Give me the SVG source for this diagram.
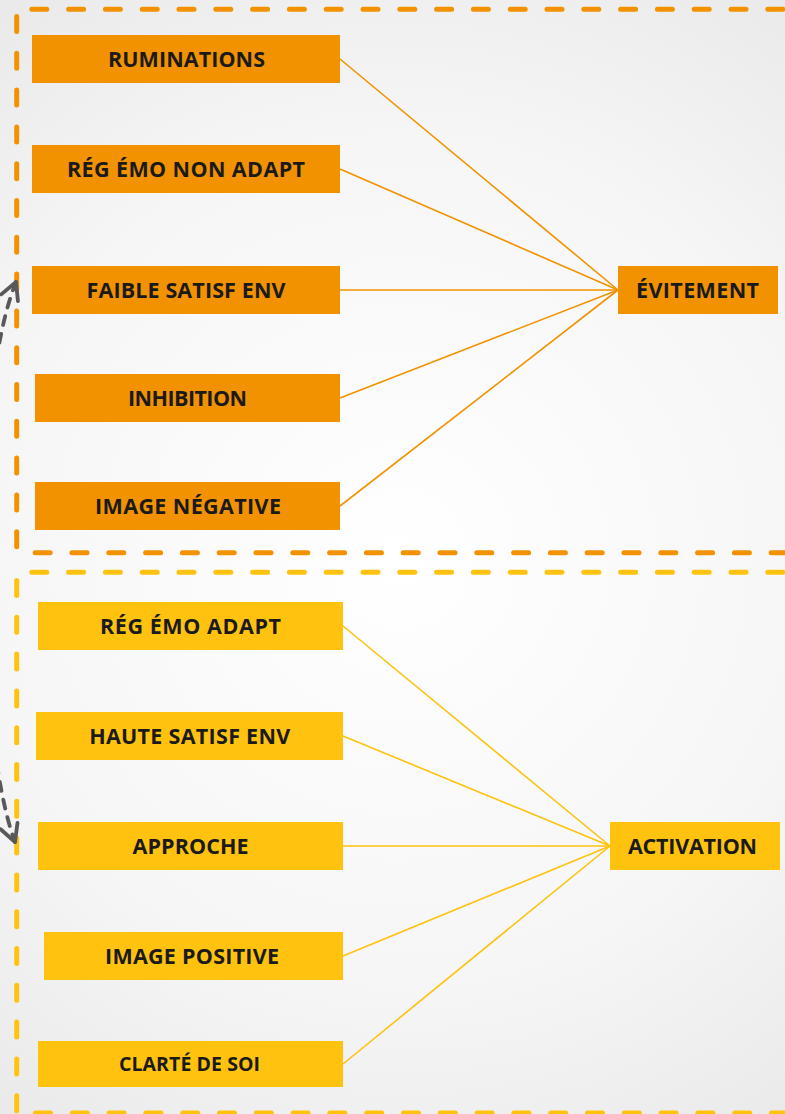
<svg xmlns="http://www.w3.org/2000/svg" width="785" height="1114" viewBox="0 0 785 1114">
  <defs>
    <radialGradient id="bg" cx="400" cy="560" r="760" gradientUnits="userSpaceOnUse">
      <stop offset="0" stop-color="#ffffff"/>
      <stop offset="0.55" stop-color="#f6f6f6"/>
      <stop offset="1" stop-color="#e6e6e6"/>
    </radialGradient>
    <marker id="chev" markerUnits="userSpaceOnUse" markerWidth="30" markerHeight="30" viewBox="-20 -15 30 30" refX="0" refY="0" orient="auto-start-reverse" overflow="visible">
      <path d="M -17 -9 L 0 0 L -17 9" fill="none" stroke="#595959" stroke-width="3.8" stroke-linecap="round" stroke-linejoin="round" stroke-dasharray="none"/>
    </marker>
  </defs>
  <style>
    .frame { fill: none; stroke-width: 5; stroke-linecap: round; stroke-dasharray: 15 21.8; }
    .f-or { stroke: #F39200; }
    .f-ye { stroke: #FFC20E; }
    .box-or { fill: #F39200; }
    .box-ye { fill: #FFC20E; }
    .lbl { font-family: "Open Sans", "Liberation Sans", sans-serif; font-weight: 700; font-size: 21.5px; fill: #1a1a1a; text-anchor: middle; }
    .sm { font-size: 19.5px; }
    .ln-or { stroke: #F39200; stroke-width: 1.6; fill: none; }
    .ln-ye { stroke: #FFC20E; stroke-width: 1.6; fill: none; }
    .loop { fill: none; stroke: #595959; stroke-width: 3.8; stroke-linecap: round; stroke-dasharray: 9 9; }
  </style>

  <rect x="0" y="0" width="785" height="1114" fill="url(#bg)"/>

  <!-- dashed group frames -->
  <g id="frames">
    <path class="frame f-or" d="M31.8 9.3 H 800"/>
    <path class="frame f-or" d="M16.7 16.5 V 548"/>
    <path class="frame f-or" d="M35.2 552.7 H 800"/>
    <path class="frame f-ye" d="M31.8 572.3 H 800"/>
    <path class="frame f-ye" d="M16.7 580.5 V 1114"/>
    <path class="frame f-ye" d="M35.5 1113 H 800"/>
  </g>

  <!-- connectors -->
  <g id="connectors">
    <path class="ln-or" d="M340 59 L618 290"/>
    <path class="ln-or" d="M340 169 L618 290"/>
    <path class="ln-or" d="M340 290 L618 290"/>
    <path class="ln-or" d="M340 398 L618 290"/>
    <path class="ln-or" d="M340 506 L618 290"/>
    <path class="ln-ye" d="M343 626 L610 846"/>
    <path class="ln-ye" d="M343 736 L610 846"/>
    <path class="ln-ye" d="M343 846 L610 846"/>
    <path class="ln-ye" d="M343 956 L610 846"/>
    <path class="ln-ye" d="M343 1064 L610 846"/>
    <path id="loop" class="loop" d="M16 282 C -30 395, -25 735, 15 842" marker-start="url(#chev)" marker-end="url(#chev)"/>
  </g>

  <!-- avoidance side -->
  <g id="ruminations">
    <rect class="box-or" x="32" y="35" width="308" height="48"/>
    <text class="lbl" x="186.5" y="66.5" textLength="157" lengthAdjust="spacing">RUMINATIONS</text>
  </g>
  <g id="reg-emo-non-adapt">
    <rect class="box-or" x="32" y="145" width="308" height="48"/>
    <text class="lbl" x="186" y="176.5" textLength="238" lengthAdjust="spacing">RÉG ÉMO NON ADAPT</text>
  </g>
  <g id="faible-satisf-env">
    <rect class="box-or" x="32" y="266" width="308" height="48"/>
    <text class="lbl" x="186" y="297.5" textLength="199" lengthAdjust="spacing">FAIBLE SATISF ENV</text>
  </g>
  <g id="inhibition">
    <rect class="box-or" x="35" y="374" width="305" height="48"/>
    <text class="lbl" x="187.5" y="405.5" textLength="119" lengthAdjust="spacing">INHIBITION</text>
  </g>
  <g id="image-negative">
    <rect class="box-or" x="35" y="482" width="305" height="48"/>
    <text class="lbl" x="188" y="513.5" textLength="186" lengthAdjust="spacing">IMAGE NÉGATIVE</text>
  </g>
  <g id="evitement">
    <rect class="box-or" x="618" y="266" width="160" height="48"/>
    <text class="lbl" x="697.5" y="297.5" textLength="123" lengthAdjust="spacing">ÉVITEMENT</text>
  </g>

  <!-- activation side -->
  <g id="reg-emo-adapt">
    <rect class="box-ye" x="38" y="602" width="305" height="48"/>
    <text class="lbl" x="190.5" y="633.5" textLength="181" lengthAdjust="spacing">RÉG ÉMO ADAPT</text>
  </g>
  <g id="haute-satisf-env">
    <rect class="box-ye" x="36" y="712" width="307" height="48"/>
    <text class="lbl" x="189.7" y="743.5" textLength="201" lengthAdjust="spacing">HAUTE SATISF ENV</text>
  </g>
  <g id="approche">
    <rect class="box-ye" x="38" y="822" width="305" height="48"/>
    <text class="lbl" x="190.5" y="853.5" textLength="116" lengthAdjust="spacing">APPROCHE</text>
  </g>
  <g id="image-positive">
    <rect class="box-ye" x="44" y="932" width="299" height="48"/>
    <text class="lbl" x="192" y="963.5" textLength="174" lengthAdjust="spacing">IMAGE POSITIVE</text>
  </g>
  <g id="clarte-de-soi">
    <rect class="box-ye" x="38" y="1041" width="305" height="46"/>
    <text class="lbl sm" x="189.5" y="1071" textLength="141" lengthAdjust="spacing">CLARTÉ DE SOI</text>
  </g>
  <g id="activation">
    <rect class="box-ye" x="610" y="822" width="170" height="48"/>
    <text class="lbl" x="692.5" y="853.5" textLength="129" lengthAdjust="spacing">ACTIVATION</text>
  </g>
</svg>
